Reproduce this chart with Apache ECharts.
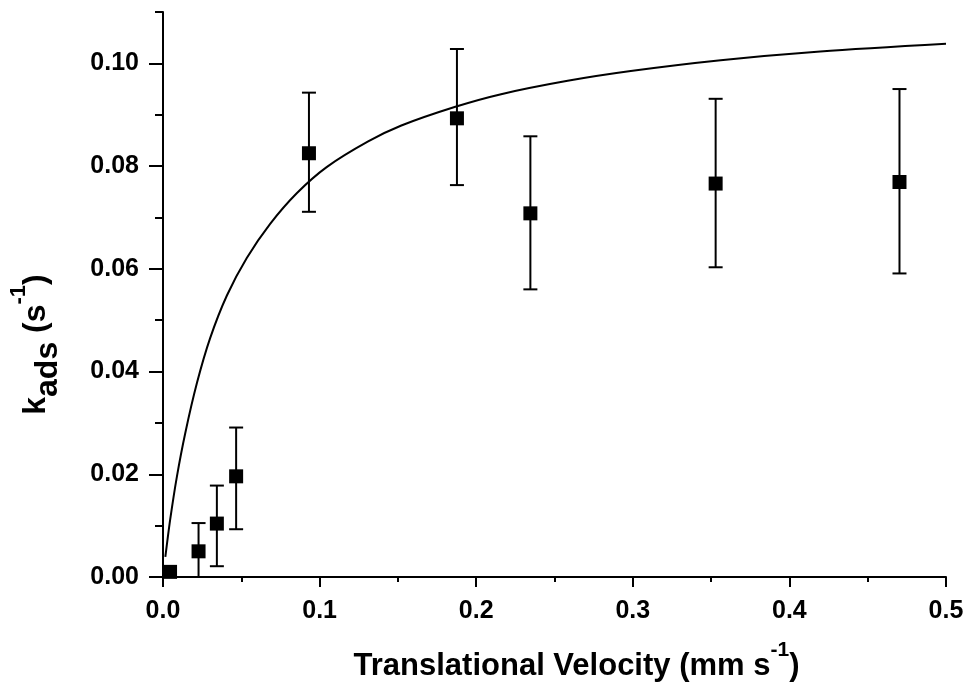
<!DOCTYPE html>
<html>
<head>
<meta charset="utf-8">
<script src="https://cdn.jsdelivr.net/npm/echarts@6/dist/echarts.min.js"></script>
<style>html,body{margin:0;padding:0;background:#fff;}#c{width:967px;height:687px;}</style>
</head>
<body>
<div id="c"></div>
<script>
// Measured points (translational velocity, k_ads) with error-bar ends
const velocity = [0.0045, 0.0227, 0.0344, 0.0467, 0.0932, 0.1877, 0.2346, 0.3529, 0.4703];
const kads     = [0.0010, 0.0050, 0.0104, 0.0196, 0.0825, 0.0893, 0.0708, 0.0766, 0.0769];
const errLow   = [0.0010, 0.0000, 0.0021, 0.0093, 0.0711, 0.0763, 0.0560, 0.0603, 0.0591];
const errHigh  = [0.0010, 0.0105, 0.0178, 0.0291, 0.0943, 0.1028, 0.0858, 0.0931, 0.0950];

// Fitted curve
const fitX = [0.0015, 0.0046, 0.0089, 0.0142, 0.0217, 0.0301, 0.0408, 0.0535, 0.0683, 0.0854, 0.1045, 0.1310, 0.1522, 0.1862, 0.2159, 0.2584, 0.2987, 0.3561, 0.4197, 0.5000];
const fitY = [0.0039, 0.0112, 0.0196, 0.0280, 0.0378, 0.0465, 0.0548, 0.0621, 0.0687, 0.0747, 0.0798, 0.0848, 0.0879, 0.0915, 0.0940, 0.0966, 0.0985, 0.1006, 0.1023, 0.1038];

// Axis ticks
const xTicks = [0, 0.1, 0.2, 0.3, 0.4, 0.5];
const yTicks = [0, 0.02, 0.04, 0.06, 0.08, 0.10];
const yMinorTicks = [0, 0.01, 0.02, 0.03, 0.04, 0.05, 0.06, 0.07, 0.08, 0.09, 0.10, 0.11];

const FONT = '"Liberation Sans", Arial, sans-serif';
const chart = echarts.init(document.getElementById('c'), null, {renderer: 'canvas'});

const points = velocity.map((v, i) => [v, kads[i]]);
const errData = velocity.map((v, i) => [v, errLow[i], errHigh[i]]);
const fitData = fitX.map((v, i) => [v, fitY[i]]);

const option = {
  animation: false,
  backgroundColor: '#fff',
  grid: {left: 161, right: 21, top: 12, bottom: 108, containLabel: false},
  xAxis: {
    type: 'value', min: 0, max: 0.5, interval: 0.1,
    axisLine: {show: true, onZero: false, lineStyle: {color: '#000', width: 2}},
    axisTick: {show: true, length: 10, customValues: xTicks, lineStyle: {color: '#000', width: 2}},
    minorTick: {show: true, splitNumber: 2, length: 5, lineStyle: {color: '#000', width: 2}},
    splitLine: {show: false},
    axisLabel: {
      margin: 22, color: '#000', fontFamily: FONT, fontWeight: 'bold', fontSize: 25,
      customValues: xTicks, formatter: v => v.toFixed(1)
    },
    name: '{m|Translational Velocity (mm s}{sup|-1}{m|)}',
    nameLocation: 'middle', nameGap: 63,
    nameTextStyle: {
      padding: [0, 0, 0, 44],
      rich: {
        m: {fontFamily: FONT, fontWeight: 'bold', fontSize: 31, color: '#000', lineHeight: 42, verticalAlign: 'bottom'},
        sup: {fontFamily: FONT, fontWeight: 'bold', fontSize: 21, color: '#000', lineHeight: 21, verticalAlign: 'top'}
      }
    }
  },
  yAxis: [{
    type: 'value', min: 0, max: 0.11,
    axisLine: {show: true, onZero: false, lineStyle: {color: '#000', width: 2}},
    axisTick: {show: true, length: 14, customValues: yTicks, lineStyle: {color: '#000', width: 2}},
    splitLine: {show: false},
    axisLabel: {
      margin: 24, color: '#000', fontFamily: FONT, fontWeight: 'bold', fontSize: 25,
      customValues: yTicks, formatter: v => v.toFixed(2)
    },
    name: '{m|k}{sub|ads}{m| (s}{sup|-1}{m|)}',
    nameLocation: 'middle', nameGap: 99, nameRotate: 90,
    nameTextStyle: {
      padding: [0, 100, 0, 0],
      rich: {
        m: {fontFamily: FONT, fontWeight: 'bold', fontSize: 32, color: '#000', lineHeight: 56, verticalAlign: 'middle'},
        sub: {fontFamily: FONT, fontWeight: 'bold', fontSize: 32, color: '#000', lineHeight: 26, verticalAlign: 'bottom'},
        sup: {fontFamily: FONT, fontWeight: 'bold', fontSize: 22, color: '#000', lineHeight: 26, verticalAlign: 'top'}
      }
    }
  }, {
    type: 'value', min: 0, max: 0.11, position: 'left', offset: 0,
    axisLine: {show: false},
    axisTick: {show: true, length: 8, customValues: yMinorTicks, lineStyle: {color: '#000', width: 2}},
    axisLabel: {show: false},
    splitLine: {show: false}
  }],
  series: [
    {
      type: 'line', data: fitData, smooth: 0.3, showSymbol: false, symbol: 'none',
      lineStyle: {color: '#000', width: 2}, z: 3
    },
    {
      type: 'custom', data: errData, z: 2, clip: false,
      renderItem: function (params, api) {
        const x = api.value(0), lo = api.value(1), hi = api.value(2);
        if (hi - lo <= 0) return null;
        const pLo = api.coord([x, lo]);
        const pHi = api.coord([x, hi]);
        const cw = 7;
        const st = {stroke: '#000', lineWidth: 2};
        return {
          type: 'group',
          children: [
            {type: 'line', shape: {x1: pLo[0], y1: pLo[1], x2: pHi[0], y2: pHi[1]}, style: st},
            {type: 'line', shape: {x1: pHi[0] - cw, y1: pHi[1], x2: pHi[0] + cw, y2: pHi[1]}, style: st},
            {type: 'line', shape: {x1: pLo[0] - cw, y1: pLo[1], x2: pLo[0] + cw, y2: pLo[1]}, style: st}
          ]
        };
      }
    },
    {
      type: 'scatter', data: points, symbol: 'rect', symbolSize: 14, clip: false,
      itemStyle: {color: '#000', opacity: 1}, z: 4
    }
  ]
};
chart.setOption(option);
</script>
</body>
</html>
